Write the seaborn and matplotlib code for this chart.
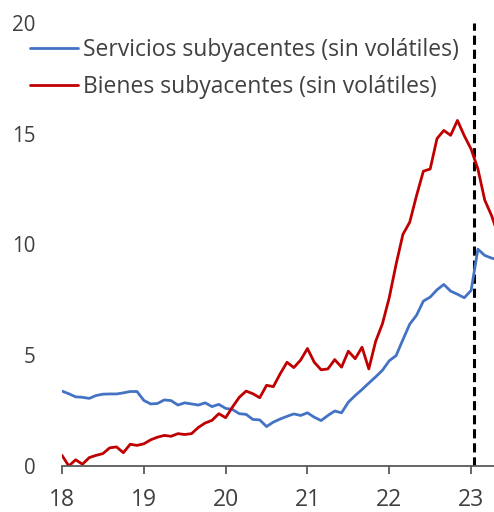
import numpy as np
import pandas as pd
import seaborn as sns
import matplotlib.pyplot as plt

# Monthly data, Jan 2018 onwards (x = year-2000 + month/12)
services = [3.38, 3.26, 3.12, 3.10, 3.05, 3.18, 3.24, 3.25, 3.25, 3.30, 3.36, 3.36,
            2.96, 2.80, 2.82, 2.98, 2.95, 2.75, 2.85, 2.80, 2.75, 2.85, 2.68, 2.78,
            2.60, 2.55, 2.36, 2.33, 2.10, 2.08, 1.78, 1.98, 2.12, 2.24, 2.35, 2.28,
            2.40, 2.20, 2.05, 2.28, 2.48, 2.40, 2.88, 3.18, 3.45, 3.74, 4.02, 4.32,
            4.75, 4.98, 5.70, 6.40, 6.80, 7.44, 7.62, 7.95, 8.19, 7.89, 7.75, 7.59,
            7.92, 9.78, 9.50, 9.38, 9.30]
goods = [0.48, 0.00, 0.28, 0.08, 0.38, 0.48, 0.56, 0.82, 0.86, 0.60, 0.98, 0.93,
         1.00, 1.18, 1.30, 1.38, 1.34, 1.46, 1.42, 1.46, 1.74, 1.94, 2.06, 2.36,
         2.18, 2.66, 3.10, 3.38, 3.26, 3.08, 3.64, 3.58, 4.16, 4.68, 4.44, 4.78,
         5.30, 4.68, 4.34, 4.38, 4.80, 4.46, 5.18, 4.84, 5.36, 4.38, 5.62, 6.42,
         7.60, 9.10, 10.45, 11.00, 12.20, 13.30, 13.40, 14.77, 15.14, 14.92, 15.59, 14.90,
         14.30, 13.40, 12.00, 11.30, 10.40]
months = list(range(len(services)))
series_names = ["Servicios subyacentes (sin volátiles)", "Bienes subyacentes (sin volátiles)"]
xticks = [18, 19, 20, 21, 22, 23]
yticks = [0, 5, 10, 15, 20]
vline_x = 23.03

x = [18 + m / 12 for m in months]
df = pd.DataFrame({
    "x": x + x,
    "y": services + goods,
    "serie": [series_names[0]] * len(x) + [series_names[1]] * len(x),
})

sns.set_theme(style="white")
plt.rcParams["font.family"] = ["Open Sans", "DejaVu Sans"]
text_color = "#404040"

fig = plt.figure(figsize=(4.94, 5.12), dpi=100)
ax = fig.add_axes([62 / 494, 46 / 512, 1 - 62 / 494, (466 - 22.7) / 512])

sns.lineplot(data=df, x="x", y="y", hue="serie", hue_order=series_names,
             palette=["#4472C4", "#C00000"], linewidth=2.0, ax=ax, legend=True)
ax.axvline(vline_x, color="black", linestyle=(0, (3, 1.6)), linewidth=2.2, zorder=1)

ax.set_xlim(18, 23.28)
ax.set_ylim(0, 20)
ax.set_xticks(xticks)
ax.set_xticklabels([str(t) for t in xticks])
ax.set_yticks(yticks)
ax.set_yticklabels([str(t) for t in yticks])
ax.set_xlabel("")
ax.set_ylabel("")
for s in ["top", "right", "left"]:
    ax.spines[s].set_visible(False)
ax.spines["bottom"].set_color("#595959")
ax.spines["bottom"].set_linewidth(1.3)
ax.tick_params(axis="x", direction="out", length=5.5, width=1.3, color="#595959",
               pad=10, labelsize=16.5, labelcolor=text_color, bottom=True)
ax.tick_params(axis="y", length=0, pad=19, labelsize=14.8, labelcolor=text_color)

handles, labels = ax.get_legend_handles_labels()
leg = ax.legend(handles, labels, loc="upper left", bbox_to_anchor=(30 / 494, 1 - 38 / 512),
                bbox_transform=fig.transFigure, frameon=False, fontsize=16.5,
                handlelength=2.1, handletextpad=0.22, labelspacing=0.55, borderpad=0,
                borderaxespad=0)
for t in leg.get_texts():
    t.set_color(text_color)
for h in leg.get_lines():
    h.set_linewidth(2.0)

fig.savefig("out.png", dpi=100)
